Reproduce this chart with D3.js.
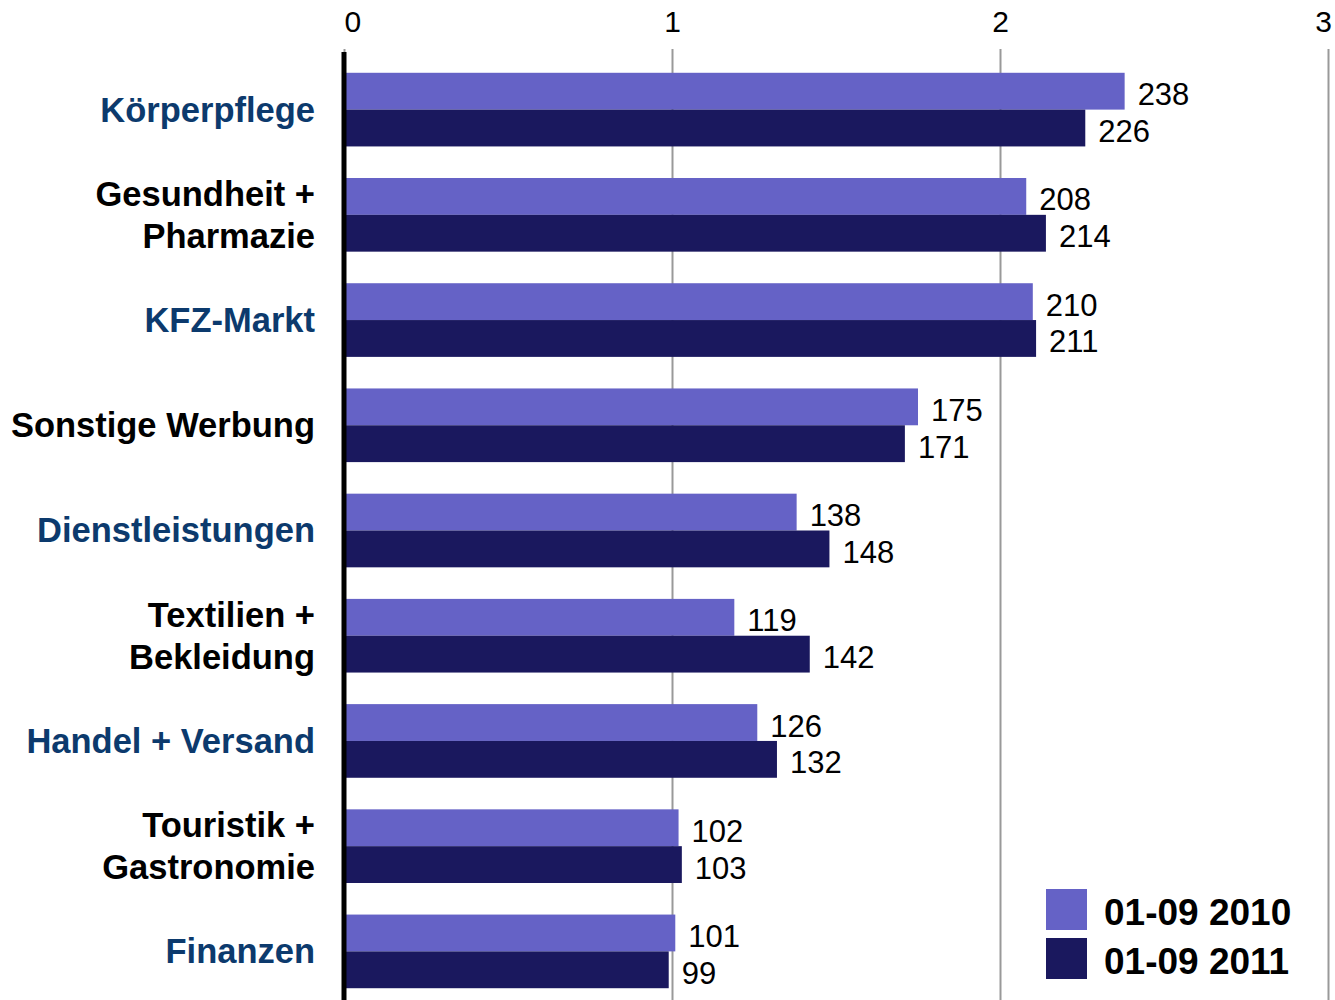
<!DOCTYPE html>
<html>
<head>
<meta charset="utf-8">
<script src="https://cdn.jsdelivr.net/npm/d3@7"></script>
<style>
  body { margin: 0; background: #fff; }
  svg { display: block; font-family: "Liberation Sans", Arial, sans-serif; }
</style>
</head>
<body>
<svg width="1335" height="1000"></svg>
<script>
var categories = [
  ['Körperpflege'],
  ['Gesundheit +', 'Pharmazie'],
  ['KFZ-Markt'],
  ['Sonstige Werbung'],
  ['Dienstleistungen'],
  ['Textilien +', 'Bekleidung'],
  ['Handel + Versand'],
  ['Touristik +', 'Gastronomie'],
  ['Finanzen']
];
var labelBlue = [true, false, true, false, true, false, true, false, true];
var series = ['01-09 2010', '01-09 2011'];
var values2010 = [238, 208, 210, 175, 138, 119, 126, 102, 101];
var values2011 = [226, 214, 211, 171, 148, 142, 132, 103, 99];
var ticks = [0, 1, 2, 3];

var width = 1335;
var height = 1000;
var colors = ['#6562c6', '#1a185e'];

var svg = d3.select('svg');

var catNames = categories.map(function(c) { return c.join(' '); });

var xScale = d3.scaleLinear()
  .domain([0, 3])
  .range([344, 1328]);

var yScale = d3.scaleBand()
  .domain(catNames)
  .range([57, 1004])
  .paddingInner(0.3)
  .paddingOuter(0.15);

var seriesScale = d3.scaleBand()
  .domain(series)
  .range([0, yScale.bandwidth()]);

var colorScale = d3.scaleOrdinal()
  .domain(series)
  .range(colors);

// grid + tick labels
var axisTop = d3.axisTop(xScale)
  .tickValues(ticks)
  .tickFormat(d3.format('d'))
  .tickSizeInner(-951)
  .tickSizeOuter(0)
  .tickPadding(17);

var axisG = svg.append('g')
  .attr('transform', 'translate(0,49)')
  .call(axisTop);
axisG.select('.domain').remove();
axisG.selectAll('line').attr('stroke', '#999').attr('stroke-width', 2);
axisG.selectAll('text')
  .attr('font-size', '30px')
  .attr('fill', '#000')
  .attr('font-family', '"Liberation Sans", Arial, sans-serif');
// keep the outer labels inside the picture
axisG.selectAll('text').filter(function(d) { return d === 0; })
  .attr('text-anchor', 'start');
axisG.selectAll('text').filter(function(d) { return d === 3; })
  .attr('dx', '-5px');

var rows = catNames.map(function(name, i) {
  return { name: name, lines: categories[i], blue: labelBlue[i], vals: [values2010[i], values2011[i]] };
});

var groups = svg.append('g').selectAll('g').data(rows).enter()
  .append('g')
  .attr('transform', function(d) { return 'translate(0,' + yScale(d.name) + ')'; });

groups.selectAll('rect').data(function(d) {
  return d.vals.map(function(v, j) { return { s: series[j], v: v }; });
}).enter()
  .append('rect')
  .attr('x', xScale(0))
  .attr('y', function(d) { return seriesScale(d.s); })
  .attr('height', seriesScale.bandwidth())
  .attr('width', function(d) { return xScale(d.v / 100) - xScale(0); })
  .attr('fill', function(d) { return colorScale(d.s); });

groups.selectAll('text.val').data(function(d) {
  return d.vals.map(function(v, j) { return { s: series[j], v: v }; });
}).enter()
  .append('text')
  .attr('class', 'val')
  .attr('x', function(d) { return xScale(d.v / 100) + 13; })
  .attr('y', function(d) { return seriesScale(d.s) + seriesScale.bandwidth() / 2 + 14; })
  .attr('font-size', '31px')
  .attr('fill', '#000')
  .text(function(d) { return d.v; });

// category labels
groups.each(function(d) {
  var g = d3.select(this);
  var mid = yScale.bandwidth() / 2;
  var lineH = 42;
  var first = mid - (d.lines.length - 1) * lineH / 2;
  d.lines.forEach(function(line, k) {
    g.append('text')
      .attr('x', 315)
      .attr('y', first + k * lineH + 12)
      .attr('text-anchor', 'end')
      .attr('font-size', '34.5px')
      .attr('font-weight', 'bold')
      .attr('fill', d.blue ? '#0c3a6d' : '#000')
      .text(line);
  });
});

// black axis line
svg.append('line')
  .attr('x1', xScale(0)).attr('x2', xScale(0))
  .attr('y1', 52).attr('y2', height)
  .attr('stroke', '#000')
  .attr('stroke-width', 5);

// legend
var legend = svg.append('g').attr('transform', 'translate(1046,889)');
series.forEach(function(s, i) {
  legend.append('rect')
    .attr('x', 0)
    .attr('y', i * 49)
    .attr('width', 41)
    .attr('height', 41)
    .attr('fill', colorScale(s));
  legend.append('text')
    .attr('x', 58)
    .attr('y', i * 49 + 36)
    .attr('font-size', '37px')
    .attr('font-weight', 'bold')
    .attr('fill', '#000')
    .text(s);
});
</script>
</body>
</html>
